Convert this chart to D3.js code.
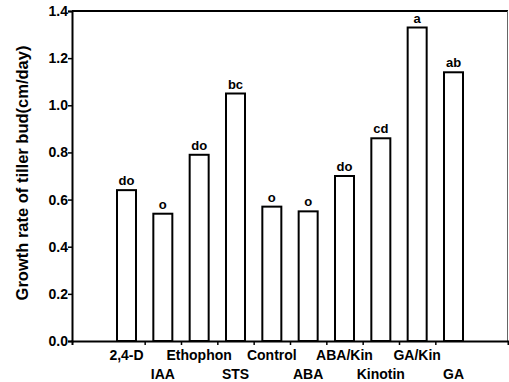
<!DOCTYPE html>
<html>
<head>
<meta charset="utf-8">
<script src="https://cdn.jsdelivr.net/npm/d3@7"></script>
<style>
  body { margin: 0; background: #fff; }
  text { font-family: "Liberation Sans", Arial, sans-serif; font-weight: bold; fill: #000; }
</style>
</head>
<body>
<div id="chart"></div>
<script>
let treatments = ['2,4-D', 'IAA', 'Ethophon', 'STS', 'Control', 'ABA', 'ABA/Kin', 'Kinotin', 'GA/Kin', 'GA']
let rates = [0.64, 0.54, 0.79, 1.05, 0.57, 0.55, 0.70, 0.86, 1.33, 1.14]
let letters = ['do', 'o', 'do', 'bc', 'o', 'o', 'do', 'cd', 'a', 'ab']
let y_ticks = [0.0, 0.2, 0.4, 0.6, 0.8, 1.0, 1.2, 1.4]

let svgWidth = 509
let svgHeight = 382
let padding = { left: 72, right: 1, top: 11, bottom: 41 }

let svg = d3.select('#chart').append('svg')
    .attr('width', svgWidth)
    .attr('height', svgHeight)

// bars sit at slots 1.5, 2.5 ... ; ticks between them
let x = d3.scaleLinear()
    .domain([0, 12])
    .range([padding.left, svgWidth - padding.right])
let y = d3.scaleLinear()
    .domain([0, 1.4])
    .range([svgHeight - padding.bottom, padding.top])

let barW = 19

// frame top / right
svg.append('line')
    .attr('x1', x(0)).attr('x2', x(12))
    .attr('y1', y(1.4)).attr('y2', y(1.4))
    .attr('stroke', '#000').attr('stroke-width', 2)
svg.append('line')
    .attr('x1', x(12) - 0.5).attr('x2', x(12) - 0.5)
    .attr('y1', y(1.4)).attr('y2', y(0))
    .attr('stroke', '#666').attr('stroke-width', 1)

// bars
svg.append('g')
    .selectAll('rect')
    .data(rates)
    .enter()
    .append('rect')
    .attr('x', (d, i) => x(i + 1.5) - barW / 2)
    .attr('y', d => y(d))
    .attr('width', barW)
    .attr('height', d => y(0) - y(d))
    .attr('fill', '#fff')
    .attr('stroke', '#000')
    .attr('stroke-width', 2)

// significance letters
svg.append('g')
    .selectAll('text')
    .data(rates)
    .enter()
    .append('text')
    .attr('x', (d, i) => x(i + 1.5))
    .attr('y', d => y(d) - 5)
    .attr('text-anchor', 'middle')
    .attr('font-size', '13px')
    .text((d, i) => letters[i])

// y axis
let axis_y = d3.axisLeft(y)
    .tickValues(y_ticks)
    .tickSize(4)
    .tickFormat(d3.format('.1f'))
let gy = svg.append('g')
    .attr('transform', `translate(${padding.left}, 0)`)
    .call(axis_y)
gy.select('.domain').attr('stroke-width', 2)
gy.selectAll('.tick line').attr('stroke-width', 1.5)
gy.selectAll('.tick text')
    .attr('font-size', '14px')
    .attr('font-family', '"Liberation Sans", Arial, sans-serif')
    .attr('font-weight', 'bold')
    .attr('x', -4)

// x axis
let axis_x = d3.axisBottom(x)
    .tickValues(d3.range(2, 11))
    .tickSize(4)
    .tickSizeOuter(4)
    .tickFormat('')
let gx = svg.append('g')
    .attr('transform', `translate(0, ${y(0)})`)
    .call(axis_x)
gx.select('.domain').attr('stroke-width', 2)
gx.selectAll('.tick line').attr('stroke-width', 1.5)

// category labels, alternating rows
svg.append('g')
    .selectAll('text')
    .data(treatments)
    .enter()
    .append('text')
    .attr('x', (d, i) => x(i + 1.5))
    .attr('y', (d, i) => i % 2 == 0 ? 360 : 379)
    .attr('text-anchor', 'middle')
    .attr('font-size', '14px')
    .text(d => d)

// y axis title
svg.append('text')
    .attr('transform', `translate(28, ${(y(0) + y(1.4)) / 2 - 3}) rotate(-90)`)
    .attr('text-anchor', 'middle')
    .attr('font-size', '16.5px')
    .text('Growth rate of tiller bud(cm/day)')
</script>
</body>
</html>
